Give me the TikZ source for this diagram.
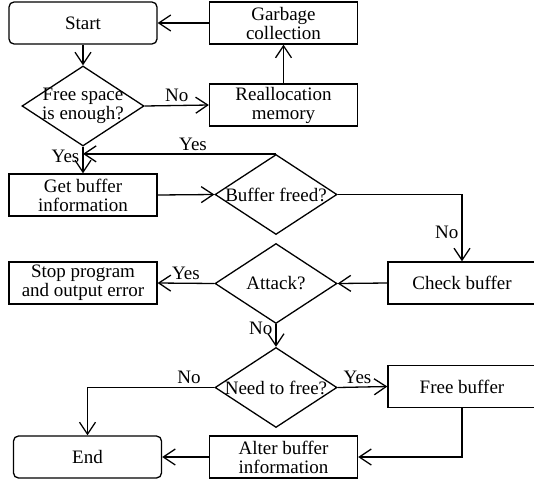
\documentclass[tikz,border=0pt]{standalone}
\usepackage{fontspec}
\setmainfont{Liberation Serif}
\usetikzlibrary{arrows.meta,positioning,shapes.geometric}
\tikzset{
  term/.style={rectangle, rounded corners=5pt, draw=black, line width=1.3pt, minimum width=148pt, minimum height=42pt, inner sep=0pt, align=center},
  proc/.style={rectangle, draw=black, line width=1.3pt, minimum width=148pt, minimum height=42pt, inner sep=0pt, align=center},
  cond/.style={diamond, aspect=1.5, draw=black, line width=1.3pt, minimum width=122pt, minimum height=80pt, inner xsep=-10pt, inner ysep=0pt, align=center},
  flow/.style={-{Straight Barb[length=12pt,width=16pt]}, line width=1.3pt},
  lbl/.style={inner sep=3pt}
}

\begin{document}
\begin{tikzpicture}[x=1pt, y=-1pt, font=\fontsize{19}{19}\selectfont]
  \useasboundingbox (0,0) rectangle (534,482);

  % left column
  \node[term] (start)  at (83,23)    {Start};
  \node[cond] (fs)     at (83,106)   {Free space\\is enough?};
  \node[proc] (getbuf) at (83,195)   {Get buffer\\information};
  \node[proc] (stop)   at (83,283)   {Stop program\\and output error};
  \node[term] (end)    at (87.5,457) {End};

  % middle column
  \node[proc] (garbage) at (283.5,23)  {Garbage\\collection};
  \node[proc] (realloc) at (283.5,105) {Reallocation\\memory};
  \node[cond] (bf)      at (276,194.5) {Buffer freed?};
  \node[cond] (attack)  at (276,283.5) {Attack?};
  \node[cond] (need)    at (276,387.5) {Need to free?};
  \node[proc] (alter)   at (283.5,457) {Alter buffer\\information};

  % right column
  \node[proc] (check) at (462,283)   {Check buffer};
  \node[proc] (free)  at (462,386.5) {Free buffer};

  \coordinate (yesjoin) at (bf.north -| getbuf.north);

  % connectors
  \draw[flow] (start) -- (fs);
  \draw[flow] (garbage) -- (start);
  \draw[flow] (realloc) -- (garbage);
  \draw[flow] (fs.east) -- node[lbl,above]{No} (realloc.west);
  \draw[flow] (fs.south) -- node[lbl,left,pos=0.35]{Yes} (getbuf.north);
  \draw[flow] (bf.north) -- node[lbl,above,pos=0.43]{Yes} (yesjoin);
  \draw[flow] (getbuf.east) -- (bf.west);
  \draw[flow] (bf.east) -| node[lbl,left,pos=0.78]{No} (check.north);
  \draw[flow] (check.west) -- (attack.east);
  \draw[flow] (attack.west) -- node[lbl,above]{Yes} (stop.east);
  \draw[flow] (attack.south) -- node[lbl,left,pos=0.2]{No} (need.north);
  \draw[flow] (need.west) -| node[lbl,above,pos=0.1]{No} (end.north);
  \draw[flow] (need.east) -- node[lbl,above,pos=0.4]{Yes} (free.west);
  \draw[flow] (free.south) |- (alter.east);
  \draw[flow] (alter.west) -- (end.east);
\end{tikzpicture}
\end{document}
